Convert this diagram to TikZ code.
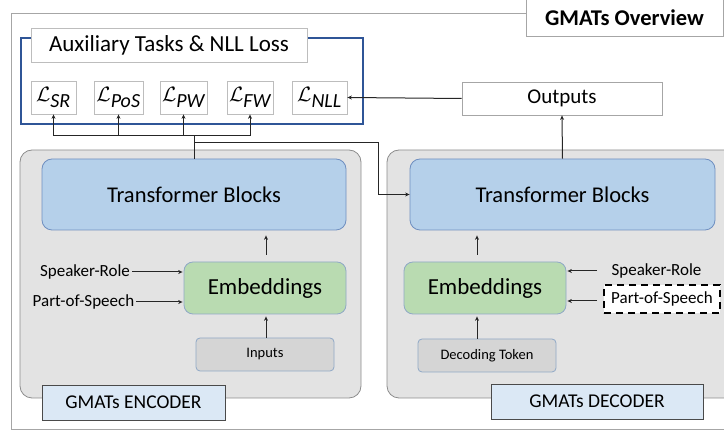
\documentclass[tikz,border=0pt]{standalone}
\usepackage{fontspec}
\setmainfont{Carlito}
\usetikzlibrary{arrows.meta}
\definecolor{frameGray}{HTML}{A6A6A6}
\definecolor{contFill}{HTML}{E3E3E3}
\definecolor{contDraw}{HTML}{8C8C8C}
\definecolor{tbFill}{HTML}{B5D0EA}
\definecolor{tbDraw}{HTML}{6F8FC0}
\definecolor{embFill}{HTML}{B9DBB1}
\definecolor{embDraw}{HTML}{8FA8C6}
\definecolor{inFill}{HTML}{D5D5D5}
\definecolor{labFill}{HTML}{DBE8F5}
\definecolor{labDraw}{HTML}{4A4A4A}
\definecolor{auxBlue}{HTML}{2F5597}
\definecolor{lossDraw}{HTML}{BDBDBD}
\begin{document}
\begin{tikzpicture}[x=1pt,y=-1pt,
  box/.style={rectangle,inner sep=0pt,align=center},
  container/.style={draw=contDraw,fill=contFill,line width=0.8pt,rounded corners=12pt},
  tblock/.style={box,draw=tbDraw,fill=tbFill,line width=0.8pt,rounded corners=10pt,
    minimum width=304pt,minimum height=71pt,font=\fontsize{22.5}{26}\selectfont},
  embox/.style={box,draw=embDraw,fill=embFill,line width=0.8pt,rounded corners=9pt,
    minimum width=162pt,minimum height=52pt,font=\fontsize{23}{27}\selectfont},
  inbox/.style={box,draw=embDraw,fill=inFill,line width=0.8pt,rounded corners=4pt,
    minimum width=138pt,minimum height=33pt,font=\fontsize{14.5}{17}\selectfont},
  label/.style={box,draw=labDraw,fill=labFill,line width=0.8pt,
    minimum height=35pt,font=\fontsize{19.5}{23}\selectfont},
  lossbox/.style={box,draw=lossDraw,fill=white,line width=0.8pt,
    minimum height=33pt,font=\fontsize{20}{24}\selectfont},
  whitebox/.style={box,draw=frameGray,fill=white,line width=0.8pt},
  sidetext/.style={box,inner sep=2pt,font=\fontsize{17}{20}\selectfont},
  conn/.style={draw=black!85,line width=1pt},
  arr/.style={conn,-{Stealth[length=4.5pt,width=4pt]}}]
\useasboundingbox (0,0) rectangle (724,435);
\clip (0,0) rectangle (724,435);

% outer frame and title
\draw[frameGray,line width=1pt] (11,14) rectangle (760,430);
\node[whitebox,minimum width=197pt,minimum height=37pt,
  font=\bfseries\fontsize{22.5}{26}\selectfont] (title) at (624.5,17.5) {GMATs Overview};

% loss group
\draw[auxBlue,line width=1.2pt] (21,38) rectangle (363,124);
\node[whitebox,draw=lossDraw,minimum width=276pt,minimum height=34pt,
  font=\fontsize{23}{27}\selectfont] (aux) at (169,45) {Auxiliary Tasks \& NLL Loss};
\node[lossbox,minimum width=45pt] (lsr)  at (53.5,97.5)  {$\mathcal{L}_{\textit{SR}}$};
\node[lossbox,minimum width=49pt] (lpos) at (118.5,97.5) {$\mathcal{L}_{\textit{PoS}}$};
\node[lossbox,minimum width=47pt] (lpw)  at (183.5,97.5) {$\mathcal{L}_{\textit{PW}}$};
\node[lossbox,minimum width=46pt] (lfw)  at (250,97.5)   {$\mathcal{L}_{\textit{FW}}$};
\node[lossbox,minimum width=55pt] (lnll) at (319.5,97.5) {$\mathcal{L}_{\textit{NLL}}$};

\node[whitebox,minimum width=200pt,minimum height=33pt,
  font=\fontsize{21}{25}\selectfont] (out) at (562,98.5) {Outputs};

% encoder
\draw[container] (20,150) rectangle (361,398);
\node[tblock] (etb) at (194,194.5) {Transformer Blocks};
\node[embox] (eemb) at (265,288) {Embeddings};
\node[inbox] (ein) at (265,354.5) {Inputs};
\node[sidetext] (esr) at (85,272) {Speaker-Role};
\node[sidetext] (epos) at (83.5,302) {Part-of-Speech};
\node[label,minimum width=183pt] (elab) at (133.5,402.5) {GMATs ENCODER};

% decoder
\draw[container] (387,150) rectangle (760,398);
\node[tblock,minimum width=305pt] (dtb) at (562.5,194.5) {Transformer Blocks};
\node[embox] (demb) at (485,288) {Embeddings};
\node[inbox] (din) at (487,355.5) {Decoding Token};
\node[sidetext] (dsr) at (656.5,271) {Speaker-Role};
\node[sidetext,draw=black,fill=white,dashed,line width=2pt,dash pattern=on 7pt off 5pt,
  minimum width=116pt,minimum height=28pt] (dpos) at (662,299) {Part-of-Speech};
\node[label,minimum width=212pt] (dlab) at (597,401.5) {GMATs DECODER};

% encoder connectors
\draw[arr,shorten >=2pt] (ein.north -| 266,0) -- (eemb.south -| 266,0);
\draw[arr,shorten <=7pt,shorten >=5pt] (eemb.north -| 266,0) -- (etb.south -| 266,0);
\draw[arr,shorten >=1pt] (esr.east) -- (eemb.west |- esr.east);
\draw[arr,shorten >=1pt] (epos.east) -- (eemb.west |- epos.east);

% decoder connectors
\draw[arr,shorten >=2pt] (din.north -| 477,0) -- (demb.south -| 477,0);
\draw[arr,shorten <=7pt,shorten >=5pt] (demb.north -| 477,0) -- (dtb.south -| 477,0);
\coordinate (dsrin) at (597,271);
\coordinate (dposin) at (597,301);
\draw[arr,shorten >=1pt] (dsrin) -- (demb.east |- dsrin);
\draw[arr,shorten >=1pt] (dposin) -- (demb.east |- dposin);

% encoder output to the losses and the decoder
\coordinate (bus) at (194,136);
\coordinate (branch) at (194,143);
\draw[conn] (etb.north) -- (bus);
\draw[arr] (bus) -| (lsr.south);
\draw[arr] (bus) -| (lpos.south);
\draw[arr] (bus) -| (lpw.south);
\draw[arr] (bus) -| (lfw.south);
\draw[arr] (branch) -- (378,143) |- (dtb.west);

% decoder output
\draw[arr] (dtb.north) -- (out.south);
\draw[arr] (out.west) -- (lnll.east);
\end{tikzpicture}
\end{document}
